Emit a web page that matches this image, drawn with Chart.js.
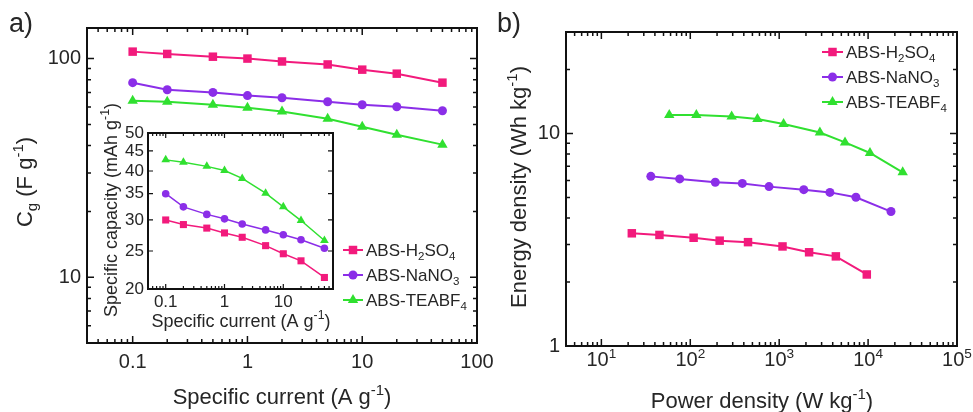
<!DOCTYPE html>
<html>
<head>
<meta charset="utf-8">
<script src="https://cdn.jsdelivr.net/npm/chart.js@4.4.1/dist/chart.umd.min.js"></script>
<style>
    body { margin: 0; background: #fff; width: 973px; height: 412px; position: relative; overflow: hidden; }
    .panel { position: absolute; }
</style>
</head>
<body>
<div class="panel" style="left:0;top:0;width:500px;height:412px"><canvas id="chartA"></canvas></div>
<div class="panel" style="left:90px;top:95px;width:260px;height:240px"><canvas id="chartInset"></canvas></div>
<div class="panel" style="left:487px;top:0;width:486px;height:412px"><canvas id="chartB"></canvas></div>
<script>
// ---- data ----
// a) gravimetric capacitance vs specific current
const currentA = [0.1, 0.2, 0.5, 1, 2, 5, 10, 20, 50];
const capH2SO4 = [107.6, 105, 102, 100, 97, 94, 89, 85.3, 77.6];
const capNaNO3 = [77.6, 72, 70, 67.7, 66.2, 63.5, 61.5, 60.2, 57.7];
const capTEABF4 = [64.2, 63.5, 61.5, 59.6, 57.2, 53.1, 48.8, 44.8, 40.4];

// a) inset: specific capacity (mAh/g)
const mahH2SO4 = [30.0, 29.2, 28.6, 27.8, 27.1, 25.8, 24.6, 23.6, 21.4];
const mahNaNO3 = [35.0, 32.4, 31.0, 30.2, 29.3, 28.3, 27.5, 26.7, 25.4];
const mahTEABF4 = [42.7, 42.1, 41.1, 40.1, 38.3, 35.1, 32.4, 29.9, 26.6];

// b) Ragone plot
const powH2SO4 = [22, 45, 109, 214, 446, 1090, 2170, 4340, 9670];
const enH2SO4 = [3.39, 3.33, 3.23, 3.13, 3.08, 2.94, 2.76, 2.64, 2.17];
const powNaNO3 = [36, 76, 191, 385, 769, 1890, 3720, 7300, 18100];
const enNaNO3 = [6.28, 6.11, 5.89, 5.82, 5.62, 5.44, 5.28, 5.01, 4.29];
const powTEABF4 = [58, 117, 292, 569, 1120, 2870, 5500, 10500, 24500];
const enTEABF4 = [12.2, 12.2, 12.0, 11.7, 11.07, 10.1, 9.07, 8.09, 6.56];

// tick labels
const ticksAX = [0.1, 1, 10, 100];
const ticksAY = [10, 100];
const ticksInsetX = [0.1, 1, 10];
const ticksInsetY = [20, 25, 30, 35, 40, 45, 50];
const ticksBX = [10, 100, 1000, 10000, 100000];
const ticksBY = [1, 10];

const COLORS = { h2so4: '#f21a7c', nano3: '#8b2ee8', teabf4: '#30e030' };
const FONT = '"Liberation Sans", Arial, sans-serif';
const TEXT = '#262626';

const LEGEND_H2SO4 = [['ABS-H', 0], ['2', -1], ['SO', 0], ['4', -1]];
const LEGEND_NANO3 = [['ABS-NaNO', 0], ['3', -1]];
const LEGEND_TEABF4 = [['ABS-TEABF', 0], ['4', -1]];

/**
 * Minor ticks 2..9 x 10^n inside [min, max]
 */
function logMinors(min, max) {
    const out = [];
    for (let e = Math.floor(Math.log10(min)); e <= Math.ceil(Math.log10(max)); e++) {
        for (let k = 2; k <= 9; k++) {
            const v = k * Math.pow(10, e);
            if (v >= min * 0.999 && v <= max * 1.001) out.push(v);
        }
    }
    return out;
}

/**
 * Text with sub/superscripts: parts = [[text, 0 | 1 (sup) | -1 (sub)], ...]
 */
function drawRich(ctx, parts, x, y, size, align) {
    const segs = parts.map(([t, m]) => {
        const fs = m ? size * 0.68 : size;
        ctx.font = fs + 'px ' + FONT;
        return { t, m, fs, w: ctx.measureText(t).width };
    });
    const total = segs.reduce((s, p) => s + p.w, 0);
    let cx = align === 'center' ? x - total / 2 : (align === 'right' ? x - total : x);
    ctx.textAlign = 'left';
    ctx.textBaseline = 'alphabetic';
    segs.forEach(p => {
        ctx.font = p.fs + 'px ' + FONT;
        const dy = p.m === 1 ? -size * 0.42 : (p.m === -1 ? size * 0.24 : 0);
        ctx.fillText(p.t, cx, y + dy);
        cx += p.w;
    });
}

// frame + inward ticks on all four sides
const frameTicks = {
    id: 'frameTicks',
    afterDatasetsDraw(chart, args, o) {
        const { ctx, chartArea: a, scales } = chart;
        ctx.save();
        ctx.strokeStyle = '#111';
        ctx.lineWidth = o.frameWidth;
        ctx.strokeRect(a.left, a.top, a.right - a.left, a.bottom - a.top);
        ctx.lineWidth = o.tickWidth;
        ctx.beginPath();
        const mark = (axis, vals, len) => {
            const s = scales[axis];
            vals.forEach(v => {
                const p = s.getPixelForValue(v);
                if (axis === 'x') {
                    if (p < a.left + 1 || p > a.right - 1) return;
                    ctx.moveTo(p, a.bottom); ctx.lineTo(p, a.bottom - len);
                    ctx.moveTo(p, a.top); ctx.lineTo(p, a.top + len);
                } else {
                    if (p < a.top + 1 || p > a.bottom - 1) return;
                    ctx.moveTo(a.left, p); ctx.lineTo(a.left + len, p);
                    ctx.moveTo(a.right, p); ctx.lineTo(a.right - len, p);
                }
            });
        };
        mark('x', o.xMajor, o.major);
        mark('x', o.xMinor, o.minor);
        mark('y', o.yMajor, o.major);
        mark('y', o.yMinor, o.minor);
        ctx.stroke();
        ctx.restore();
    }
};

// axis titles, panel letters, power-of-ten labels and the legend
const richText = {
    id: 'richText',
    afterDraw(chart, args, o) {
        const ctx = chart.ctx;
        ctx.save();
        ctx.fillStyle = TEXT;
        (o.items || []).forEach(it => {
            ctx.save();
            ctx.translate(it.x, it.y);
            if (it.rotate) ctx.rotate(-Math.PI / 2);
            drawRich(ctx, it.parts, 0, 0, it.size, it.align || 'center');
            ctx.restore();
        });
        if (o.expTicks) {
            const s = chart.scales.x;
            o.expTicks.values.forEach(v => {
                const p = s.getPixelForValue(v);
                drawRich(ctx, [['10', 0], [String(Math.round(Math.log10(v))), 1]], p, o.expTicks.y, o.expTicks.size, 'center');
            });
        }
        const lg = o.legend;
        if (lg) {
            chart.data.datasets.forEach((ds, i) => {
                const y = lg.y + i * lg.dy;
                ctx.strokeStyle = ds.borderColor;
                ctx.lineWidth = ds.borderWidth;
                ctx.beginPath();
                ctx.moveTo(lg.x, y);
                ctx.lineTo(lg.x + lg.len, y);
                ctx.stroke();
                ctx.fillStyle = ds.pointBackgroundColor;
                Chart.helpers.drawPoint(ctx, { pointStyle: ds.pointStyle, radius: ds.pointRadius, borderWidth: 0, rotation: 0 }, lg.x + lg.len / 2, y);
                ctx.fillStyle = TEXT;
                drawRich(ctx, ds.legendParts, lg.x + lg.len + 3, y + lg.size * 0.36, lg.size, 'left');
            });
        }
        ctx.restore();
    }
};

function series(label, parts, xs, ys, color, style, r, w) {
    return {
        label: label,
        legendParts: parts,
        data: xs.map((x, i) => ({ x: x, y: ys[i] })),
        borderColor: color,
        backgroundColor: color,
        pointBackgroundColor: color,
        pointBorderColor: color,
        pointBorderWidth: 0,
        pointStyle: style,
        pointRadius: r,
        borderWidth: w,
        tension: 0,
    };
}

/**
 * Log axis with fixed ticks; the afterFit pins the plot area to the figure's box
 */
function logAxis(min, max, ticks, prop, px, fontSize, pad, showLabels) {
    return {
        type: 'logarithmic',
        min: min,
        max: max,
        grid: { display: false, drawTicks: false },
        border: { display: false },
        afterBuildTicks: scale => { scale.ticks = ticks.map(v => ({ value: v })); },
        afterFit: scale => {
            scale[prop] = px;
            scale.paddingLeft = scale.paddingRight = scale.paddingTop = scale.paddingBottom = 0;
        },
        ticks: {
            display: showLabels,
            autoSkip: false,
            maxRotation: 0,
            padding: pad,
            color: TEXT,
            font: { family: FONT, size: fontSize },
            callback: v => String(v),
        },
    };
}

function baseOptions(padding) {
    return {
        responsive: true,
        maintainAspectRatio: false,
        animation: false,
        layout: { padding: padding },
        plugins: { legend: { display: false }, tooltip: { enabled: false } },
    };
}

// ---- a) main panel ----
const optA = baseOptions({ top: 28, right: 23, left: 0, bottom: 0 });
optA.scales = {
    x: logAxis(0.04, 100, ticksAX, 'height', 69, 20, 7, true),
    y: logAxis(5, 138, ticksAY, 'width', 87, 20, 6, true),
};
optA.plugins.frameTicks = {
    frameWidth: 2, tickWidth: 1.5, major: 7, minor: 4,
    xMajor: ticksAX, xMinor: logMinors(0.04, 100),
    yMajor: ticksAY, yMinor: logMinors(5, 138),
};
optA.plugins.richText = {
    items: [
        { parts: [['a)', 0]], x: 9, y: 32, size: 27, align: 'left' },
        { parts: [['Specific current (A g', 0], ['-1', 1], [')', 0]], x: 282, y: 404, size: 22 },
        { parts: [['C', 0], ['g', -1], [' (F g', 0], ['-1', 1], [')', 0]], x: 32, y: 182, size: 22, rotate: true },
    ],
    legend: { x: 343, len: 20, y: 250, dy: 25, size: 17 },
};
new Chart(document.getElementById('chartA'), {
    type: 'line',
    data: {
        datasets: [
            series('ABS-H2SO4', LEGEND_H2SO4, currentA, capH2SO4, COLORS.h2so4, 'rect', 6, 2),
            series('ABS-NaNO3', LEGEND_NANO3, currentA, capNaNO3, COLORS.nano3, 'circle', 4.5, 2),
            series('ABS-TEABF4', LEGEND_TEABF4, currentA, capTEABF4, COLORS.teabf4, 'triangle', 6, 2),
        ]
    },
    options: optA,
    plugins: [frameTicks, richText],
});

// ---- a) inset ----
const optIn = baseOptions({ top: 38, right: 17, left: 0, bottom: 0 });
optIn.scales = {
    x: logAxis(0.05, 70, ticksInsetX, 'height', 46, 17, 3, true),
    y: logAxis(20, 50, ticksInsetY, 'width', 58, 17, 4, true),
};
optIn.plugins.frameTicks = {
    frameWidth: 2, tickWidth: 1.2, major: 5, minor: 3,
    xMajor: ticksInsetX, xMinor: logMinors(0.05, 70),
    yMajor: ticksInsetY, yMinor: [],
};
optIn.plugins.richText = {
    items: [
        { parts: [['Specific current (A g', 0], ['-1', 1], [')', 0]], x: 151, y: 232, size: 18 },
        { parts: [['Specific capacity (mAh g', 0], ['-1', 1], [')', 0]], x: 27, y: 115, size: 18, rotate: true },
    ],
};
new Chart(document.getElementById('chartInset'), {
    type: 'line',
    data: {
        datasets: [
            series('ABS-H2SO4', LEGEND_H2SO4, currentA, mahH2SO4, COLORS.h2so4, 'rect', 5, 1.5),
            series('ABS-NaNO3', LEGEND_NANO3, currentA, mahNaNO3, COLORS.nano3, 'circle', 3.8, 1.5),
            series('ABS-TEABF4', LEGEND_TEABF4, currentA, mahTEABF4, COLORS.teabf4, 'triangle', 5, 1.5),
        ]
    },
    options: optIn,
    plugins: [frameTicks, richText],
});

// ---- b) Ragone plot ----
const optB = baseOptions({ top: 32, right: 16, left: 0, bottom: 0 });
optB.scales = {
    x: logAxis(4, 100000, ticksBX, 'height', 66, 20, 6, false),
    y: logAxis(1, 30, ticksBY, 'width', 79, 20, 6, true),
};
optB.plugins.frameTicks = {
    frameWidth: 2, tickWidth: 1.5, major: 7, minor: 4,
    xMajor: ticksBX, xMinor: logMinors(4, 100000),
    yMajor: ticksBY, yMinor: logMinors(1, 30),
};
optB.plugins.richText = {
    items: [
        { parts: [['b)', 0]], x: 10, y: 32, size: 27, align: 'left' },
        { parts: [['Power density (W kg', 0], ['-1', 1], [')', 0]], x: 275, y: 408, size: 22 },
        { parts: [['Energy density (Wh kg', 0], ['-1', 1], [')', 0]], x: 39, y: 187, size: 22, rotate: true },
    ],
    expTicks: { values: ticksBX, y: 366, size: 20 },
    legend: { x: 335, len: 21, y: 52, dy: 25, size: 17 },
};
new Chart(document.getElementById('chartB'), {
    type: 'line',
    data: {
        datasets: [
            series('ABS-H2SO4', LEGEND_H2SO4, powH2SO4, enH2SO4, COLORS.h2so4, 'rect', 6, 2),
            series('ABS-NaNO3', LEGEND_NANO3, powNaNO3, enNaNO3, COLORS.nano3, 'circle', 4.5, 2),
            series('ABS-TEABF4', LEGEND_TEABF4, powTEABF4, enTEABF4, COLORS.teabf4, 'triangle', 6, 2),
        ]
    },
    options: optB,
    plugins: [frameTicks, richText],
});
</script>
</body>
</html>
